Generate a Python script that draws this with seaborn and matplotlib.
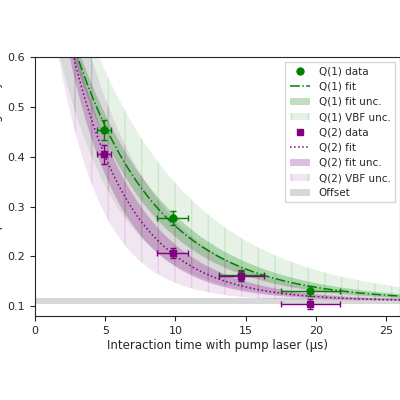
import numpy as np
import matplotlib
matplotlib.use("Agg")
import matplotlib.pyplot as plt
import seaborn as sns

sns.set_style("ticks")
plt.rcParams.update({"font.size": 8, "axes.labelsize": 8.5, "xtick.labelsize": 8, "ytick.labelsize": 8})

# data points
t_data = [4.9, 9.8, 14.7, 19.6]
t_err = [0.5, 1.1, 1.6, 2.1]
q1_y = [0.454, 0.277, 0.163, 0.131]
q1_yerr = [0.02, 0.014, 0.01, 0.01]
q2_y = [0.405, 0.206, 0.160, 0.104]
q2_yerr = [0.019, 0.01, 0.01, 0.01]

# fit parameters (offset + amplitude * exp(-t/tau))
offset = 0.11
offset_unc = 0.006
q1_amp, q1_tau = 0.82, 5.9
q2_amp, q2_tau = 0.93, 4.3
fit_tau_unc = [0.5, 0.45]
vbf_tau_unc = [1.6, 1.1]
vbf_amp_unc = [0.08, 0.1]

t = np.linspace(0.01, 26, 400)

def model(amp, tau):
    return offset + amp * np.exp(-t / tau)

fig = plt.figure(figsize=(4, 4), dpi=100)
ax = fig.add_axes([0.0875, 0.21, 0.9125, 0.647])

green, purple = "green", "purple"
sns.lineplot(x=t, y=model(q1_amp, q1_tau), ax=ax, color=green, linestyle="-.", lw=1.1, label="Q(1) fit")
l_fit1 = ax.lines[-1]
f1 = ax.fill_between(t, model(q1_amp, q1_tau - fit_tau_unc[0]), model(q1_amp, q1_tau + fit_tau_unc[0]),
                     color=green, alpha=0.25, lw=0)
v1 = ax.fill_between(t, model(q1_amp - vbf_amp_unc[0], q1_tau - vbf_tau_unc[0]),
                     model(q1_amp + vbf_amp_unc[0], q1_tau + vbf_tau_unc[0]),
                     facecolor=green, alpha=0.1, edgecolor=green, hatch="|", lw=0)
sns.lineplot(x=t, y=model(q2_amp, q2_tau), ax=ax, color=purple, linestyle=":", lw=1.1, label="Q(2) fit")
l_fit2 = ax.lines[-1]
f2 = ax.fill_between(t, model(q2_amp, q2_tau - fit_tau_unc[1]), model(q2_amp, q2_tau + fit_tau_unc[1]),
                     color=purple, alpha=0.25, lw=0)
v2 = ax.fill_between(t, model(q2_amp - vbf_amp_unc[1], q2_tau - vbf_tau_unc[1]),
                     model(q2_amp + vbf_amp_unc[1], q2_tau + vbf_tau_unc[1]),
                     facecolor=purple, alpha=0.1, edgecolor=purple, hatch="|", lw=0)
off = ax.axhspan(offset - offset_unc, offset + offset_unc, color="gray", alpha=0.3, lw=0)

ax.errorbar(t_data, q1_y, xerr=t_err, yerr=q1_yerr, fmt="o", color=green, ms=5, capsize=2, elinewidth=1)
ax.errorbar(t_data, q2_y, xerr=t_err, yerr=q2_yerr, fmt="s", color=purple, ms=5, capsize=2, elinewidth=1)

ax.set_xlim(0, 26)
ax.set_ylim(0.08, 0.6)
ax.set_xlabel("Interaction time with pump laser (μs)", labelpad=2)
ax.set_ylabel("Fraction of Population Remaining in Cycle", labelpad=3)
h1 = plt.Line2D([], [], marker="o", color=green, ls="none", ms=5)
h2 = plt.Line2D([], [], marker="s", color=purple, ls="none", ms=5)
ax.legend([h1, l_fit1, f1, v1, h2, l_fit2, f2, v2, off],
          ["Q(1) data", "Q(1) fit", "Q(1) fit unc.", "Q(1) VBF unc.",
           "Q(2) data", "Q(2) fit", "Q(2) fit unc.", "Q(2) VBF unc.", "Offset"],
          loc="upper right", fontsize=7.5, fancybox=False)
fig.savefig("out.png", dpi=100)
